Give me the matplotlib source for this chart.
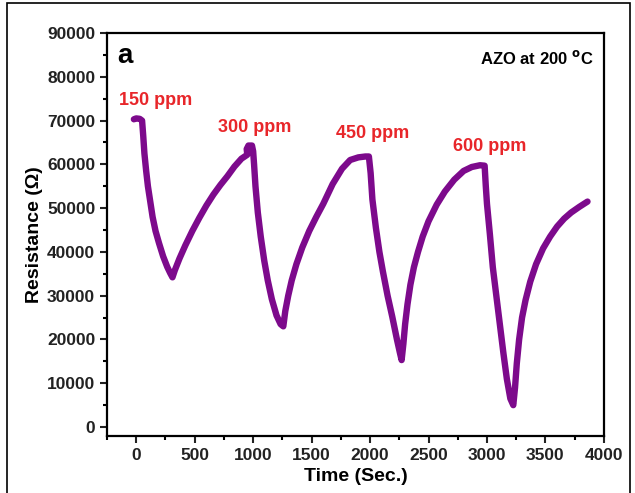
import matplotlib
matplotlib.use('Agg')
import matplotlib.pyplot as plt
from matplotlib.patches import Rectangle
from matplotlib.ticker import MultipleLocator

# time (s) and resistance (ohm)
time_s = [
    -20, 0, 30, 50, 60, 70, 85, 100, 120, 140, 165, 195, 230, 265, 290, 310,
    330, 370, 420, 480, 540, 600, 660, 720, 780, 840, 900, 950, 945, 960, 990, 1000,
    1008, 1020, 1040, 1065, 1095, 1125, 1160, 1200, 1235, 1258,
    1275, 1300, 1330, 1370, 1420, 1480, 1540, 1600, 1680, 1760, 1830, 1900, 1960, 1990,
    2005, 2020, 2050, 2080, 2110, 2150, 2190, 2230, 2255, 2270,
    2285, 2300, 2320, 2345, 2375, 2410, 2450, 2500, 2570, 2640, 2720, 2800, 2870, 2940, 2980,
    2990, 3000, 3025, 3050, 3080, 3110, 3140, 3170, 3200, 3225,
    3240, 3255, 3275, 3300, 3330, 3370, 3420, 3480, 3540, 3600, 3660, 3720, 3790, 3860,
]
resistance = [
    70300, 70500, 70400, 70000, 66500, 62500, 58500, 55000, 51500, 48000, 44800, 42000, 39000, 36600, 35200, 34200,
    35800, 38500, 41500, 44800, 47800, 50600, 53100, 55300, 57300, 59500, 61300, 62200, 63500, 64300, 64300, 63000,
    60000, 55000, 49000, 43500, 38000, 33500, 29200, 25500, 23500, 23000,
    26500, 30000, 33500, 37200, 41000, 44800, 48000, 51000, 55500, 59000, 61000, 61600, 61800, 61800,
    58000, 52000, 45500, 40000, 35500, 30000, 25200, 20000, 17000, 15300,
    19000, 23500, 28000, 32500, 36500, 40000, 43500, 47000, 50800, 53800, 56500, 58500, 59400, 59800, 59700,
    55000, 51000, 44000, 36500, 30000, 23500, 17000, 11000, 6500, 5000,
    9000, 14500, 20000, 25000, 29000, 33200, 37200, 40800, 43500, 45800, 47600, 49000, 50300, 51500,
]

labels = ['150 ppm', '300 ppm', '450 ppm', '600 ppm']
label_t = [170, 1010, 2020, 3020]
label_r = [74500, 68400, 67000, 64000]

plt.rcParams['font.family'] = ['Liberation Sans', 'DejaVu Sans']
plt.rcParams['font.weight'] = 'bold'

fig = plt.figure(figsize=(6.35, 4.93), dpi=100)
ax = fig.add_axes([0.1685, 0.116, 0.7825, 0.817])

ax.plot(time_s, resistance, color='#7d0a8c', lw=4.6, solid_capstyle='round', solid_joinstyle='round')

for lab, t, r in zip(labels, label_t, label_r):
    ax.text(t, r, lab, color='#e8262a', fontsize=13, fontweight='bold', ha='center', va='center')

ax.text(0.02, 0.975, 'a', transform=ax.transAxes, fontsize=20, fontweight='bold', va='top', ha='left')
ax.text(0.98, 0.96, 'AZO at 200 $^{\\mathbf{o}}$C', transform=ax.transAxes, fontsize=12,
        fontweight='bold', va='top', ha='right')

ax.set_xlim(-250, 4000)
ax.set_ylim(-2000, 90000)
ax.xaxis.set_major_locator(MultipleLocator(500))
ax.xaxis.set_minor_locator(MultipleLocator(250))
ax.yaxis.set_major_locator(MultipleLocator(10000))
ax.yaxis.set_minor_locator(MultipleLocator(5000))
ax.tick_params(which='major', direction='out', length=5, width=1.5, labelsize=12.5, top=False, right=False,
               colors='#222222')
ax.tick_params(which='minor', direction='out', length=3, width=1.5, top=False, right=False)
for lbl in ax.get_xticklabels() + ax.get_yticklabels():
    lbl.set_fontweight('bold')
for s in ax.spines.values():
    s.set_linewidth(1.6)

ax.set_xlabel('Time (Sec.)', fontsize=14, fontweight='bold', labelpad=4)
ax.set_ylabel('Resistance (\u03a9)', fontsize=14, fontweight='bold', labelpad=3)

fig.add_artist(Rectangle((7 / 635, -0.02), 623 / 635, 1.02 - 3 / 493, transform=fig.transFigure,
                         fill=False, edgecolor='black', lw=1.2))

fig.savefig('out.png', dpi=100)
